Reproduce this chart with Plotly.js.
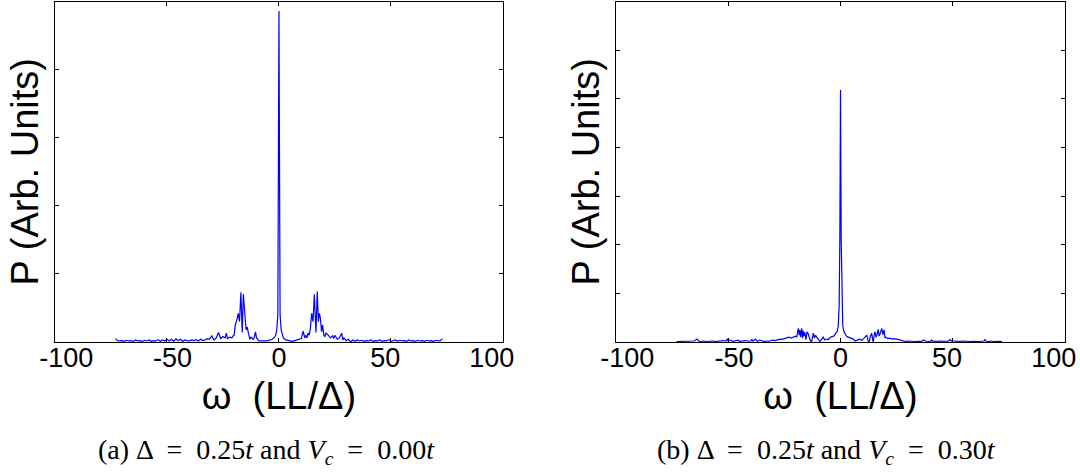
<!DOCTYPE html>
<html>
<head>
<meta charset="utf-8">
<script src="https://cdn.plot.ly/plotly-3.0.1.min.js"></script>
<style>html,body{margin:0;padding:0;background:#fff;}#chart{width:1080px;height:474px;}</style>
</head>
<body>
<div id="chart"></div>
<script>
// ---- Panel (a): Δ = 0.25t, Vc = 0.00t ----
const omegaA = [-73,-72,-71,-70,-69,-68,-67,-66,-65,-64,-63,-62,-61,-60,-59,-58,-57,-56,-55,-54,-53,-52,-51,-50,-49,-48,-47,-46,-45,-44,-43,-42,-41,-40,-39,-38,-37,-36,-35,-34,-33,-32,-31,-30,-29,-28,-27,-26,-25,-24,-23.5,-23,-22,-21,-20.5,-20,-19.5,-19,-18.6,-18.2,-17.6,-17,-16.4,-15.9,-15.3,-14.7,-14.2,-13.7,-13,-12.5,-12,-11.5,-11,-10.5,-10,-9.5,-9,-8,-7,-6,-5,-4,-3,-2,-1.5,-1,-0.5,0,0.5,1,1.5,2,3,4,5,6,7,8,9,10,10.8,11.5,12,12.5,13,13.5,14,14.6,15.2,15.8,16.5,17.1,17.6,18,18.5,19,19.5,20,20.5,21,22,23,24,24.5,25,26,27,28,28.5,29,30,31,32,33,34,35,36,37,38,39,40,41,42,43,44,45,46,47,48,49,50,51,52,53,54,55,56,57,58,59,60,61,62,63,64,65,66,67,68,69,70,71,72,73];
const powerA = [0.05,0.02,0.015,0.02,0.01,0.025,0.015,0.02,0.01,0.03,0.015,0.02,0.01,0.025,0.015,0.03,0.01,0.02,0.015,0.035,0.01,0.03,0.015,0.04,0.015,0.04,0.01,0.045,0.02,0.04,0.01,0.03,0.02,0.015,0.03,0.02,0.035,0.015,0.04,0.02,0.03,0.05,0.04,0.09,0.03,0.06,0.14,0.05,0.08,0.06,0.13,0.05,0.07,0.06,0.09,0.1,0.25,0.3,0.35,0.42,0.3,0.73,0.14,0.70,0.44,0.18,0.22,0.12,0.04,0.07,0.05,0.04,0.07,0.15,0.06,0.03,0.02,0.015,0.01,0.015,0.02,0.03,0.04,0.07,0.1,0.17,0.4,4.86,0.4,0.17,0.1,0.06,0.03,0.02,0.015,0.01,0.02,0.03,0.04,0.05,0.16,0.06,0.1,0.06,0.13,0.1,0.2,0.42,0.3,0.70,0.14,0.74,0.3,0.42,0.35,0.15,0.25,0.1,0.08,0.13,0.1,0.06,0.09,0.05,0.1,0.04,0.06,0.13,0.03,0.06,0.02,0.04,0.0,0.03,0.01,0.03,0.015,0.025,0.01,0.02,0.015,0.03,0.01,0.02,0.015,0.03,0.01,0.02,0.015,0.035,0.01,0.02,0.03,0.01,0.025,0.015,0.02,0.01,0.03,0.015,0.02,0.01,0.025,0.015,0.02,0.01,0.025,0.015,0.02,0.01,0.025,0.015,0.02,0.05];

// ---- Panel (b): Δ = 0.25t, Vc = 0.30t ----
const omegaB = [-73,-72,-71,-70,-69,-68,-67,-66,-65,-64,-63,-62,-61,-60,-59,-58,-57,-56,-55,-54,-53,-52,-51,-50.5,-50,-49,-48,-47,-46,-45.5,-45,-44,-43,-42,-41,-40,-39.5,-39,-38,-37,-36,-35,-34,-33,-32,-31,-30,-29,-28,-27,-26,-25,-24,-23,-22,-21,-20,-19.5,-19,-18.8,-18.4,-18.1,-17.7,-17.3,-16.9,-16.6,-16.2,-15.9,-15.4,-14.9,-14.4,-13.9,-13.4,-12.9,-12.4,-12.1,-11.6,-11.1,-10.6,-10,-9.2,-8.5,-7.7,-7,-6.2,-5.5,-4.8,-4,-3,-2.5,-2,-1.5,-1,-0.6,-0.3,0,0.3,0.6,1,1.5,2,2.5,3,4,5,5.7,6.5,7,8,8.7,9.5,10,11,11.7,12.3,12.8,13.3,13.9,14.3,14.6,15,15.4,15.8,16.2,16.8,17.2,17.6,18,18.4,18.9,19.4,19.8,20.2,21,22,23,24,25,26,27,28,29,30,31,32,33,34,35,36,37,38,39,40,40.6,41,42,43,44,45,46,47,48,48.8,49.5,50,51,52,53,54,55,56,57,58,59,60,61,62,63,64,64.4,65,66,67,68,69,70,71,72];
const powerB = [0.01,0.01,0.015,0.01,0.015,0.01,0.02,0.01,0.02,0.06,0.015,0.01,0.02,0.01,0.015,0.01,0.02,0.01,0.015,0.02,0.01,0.03,0.02,0.06,0.02,0.04,0.015,0.02,0.03,0.04,0.015,0.02,0.01,0.03,0.015,0.02,0.05,0.02,0.06,0.015,0.04,0.02,0.01,0.02,0.015,0.03,0.04,0.03,0.05,0.06,0.055,0.07,0.08,0.1,0.08,0.1,0.12,0.1,0.2,0.28,0.14,0.25,0.1,0.28,0.08,0.23,0.12,0.2,0.05,0.21,0.17,0.09,0.02,0.0,0.16,0.18,0.08,0.14,0.1,0.06,0.01,0.05,0.1,0.04,0.06,0.05,0.08,0.11,0.12,0.15,0.18,0.22,0.33,0.75,2.1,5.18,2.1,0.75,0.33,0.22,0.16,0.13,0.11,0.09,0.08,0.06,0.02,0.03,0.05,0.06,0.03,0.06,0.1,0.14,0.02,0.0,0.12,0.18,0.05,0.0,0.15,0.21,0.1,0.14,0.26,0.12,0.17,0.23,0.28,0.15,0.25,0.09,0.1,0.07,0.08,0.06,0.07,0.06,0.05,0.04,0.03,0.01,0.02,0.01,0.015,0.01,0.02,0.015,0.01,0.04,0.015,0.02,0.01,0.04,0.015,0.02,0.01,0.02,0.015,0.01,0.02,0.015,0.05,0.02,0.03,0.015,0.02,0.01,0.02,0.015,0.01,0.02,0.01,0.015,0.01,0.02,0.01,0.015,0.02,0.05,0.015,0.01,0.02,0.01,0.015,0.01,0.015,0.01];

const xTickVals = [-100, -50, 0, 50, 100];
const xTickText = ['-100', '-50', '0', '50', '100'];
const yTickValsA = [0, 1, 2, 3, 4, 5];
const yTickValsB = [0, 1, 2, 3, 4, 5, 6, 7];
const xTitle = 'ω  (LL/Δ)';
const yTitle = 'P (Arb. Units)';
const captionA = '(a) Δ &nbsp;= &nbsp;0.25<i>t</i> and <i>V<sub>c</sub></i> &nbsp;= &nbsp;0.00<i>t</i>';
const captionB = '(b) Δ &nbsp;= &nbsp;0.25<i>t</i> and <i>V<sub>c</sub></i> &nbsp;= &nbsp;0.30<i>t</i>';

const sans = 'Liberation Sans, Arial, sans-serif';
const serif = 'Liberation Serif, Times New Roman, serif';

const lineStyle = {color: '#0000ff', width: 1.2};
const traces = [
  {x: omegaA, y: powerA, type: 'scatter', mode: 'lines', line: lineStyle, xaxis: 'x', yaxis: 'y', hoverinfo: 'x+y'},
  {x: omegaB, y: powerB, type: 'scatter', mode: 'lines', line: lineStyle, xaxis: 'x2', yaxis: 'y2', hoverinfo: 'x+y'},
  // empty helper traces so the tick-label axes are drawn (no visible marks)
  {x: xTickVals, y: xTickVals.map(() => null), type: 'scatter', mode: 'lines', xaxis: 'x3', yaxis: 'y', hoverinfo: 'skip'},
  {x: xTickVals, y: xTickVals.map(() => null), type: 'scatter', mode: 'lines', xaxis: 'x4', yaxis: 'y2', hoverinfo: 'skip'}
];

// frame + tick marks (main axis, no labels)
function xAxis(domain, anchor) {
  return {
    domain: domain, anchor: anchor, range: [-100, 100],
    tickvals: xTickVals, showticklabels: false,
    ticks: 'inside', ticklen: 4, tickcolor: '#000', tickwidth: 1,
    showline: true, linecolor: '#000', linewidth: 1, mirror: 'ticks',
    showgrid: false, zeroline: false,
    title: {text: xTitle, font: {family: sans, size: 38, color: '#000'}, standoff: 40}
  };
}
// tick labels, drawn slightly compressed toward the centre as in the original figure
function xLabelAxis(domain, anchor, overlay) {
  return {
    domain: domain, anchor: anchor, overlaying: overlay, side: 'bottom',
    range: [-105.3, 105.3],
    tickvals: xTickVals, ticktext: xTickText,
    ticks: '', showline: false, showgrid: false, zeroline: false,
    ticklabelstandoff: -3, ticklabeloverflow: 'allow',
    tickfont: {family: sans, size: 27, color: '#000'}
  };
}
function yAxis(tickvals, top, anchor) {
  return {
    domain: [0.2785, 0.9968], anchor: anchor, range: [0, top],
    tickvals: tickvals, showticklabels: false,
    ticks: 'inside', ticklen: 4, tickcolor: '#000', tickwidth: 1,
    showline: true, linecolor: '#000', linewidth: 1, mirror: 'ticks',
    showgrid: false, zeroline: false,
    title: {text: yTitle, font: {family: sans, size: 38, color: '#000'}, standoff: 3}
  };
}

const dA = [0.0509, 0.4657];
const dB = [0.5704, 0.9861];
const layout = {
  width: 1080, height: 474,
  margin: {l: 0, r: 0, t: 0, b: 0},
  paper_bgcolor: '#fff', plot_bgcolor: '#fff',
  showlegend: false,
  xaxis: xAxis(dA, 'y'),
  yaxis: yAxis(yTickValsA, 5, 'x'),
  xaxis2: xAxis(dB, 'y2'),
  yaxis2: yAxis(yTickValsB, 7, 'x2'),
  xaxis3: xLabelAxis(dA, 'y', 'x'),
  xaxis4: xLabelAxis(dB, 'y2', 'x2'),
  annotations: [
    {text: captionA, xref: 'paper', yref: 'paper', x: 0.2472, y: 0.0485, xanchor: 'center', yanchor: 'middle', showarrow: false, font: {family: serif, size: 28, color: '#000'}},
    {text: captionB, xref: 'paper', yref: 'paper', x: 0.7657, y: 0.0485, xanchor: 'center', yanchor: 'middle', showarrow: false, font: {family: serif, size: 28, color: '#000'}}
  ]
};

Plotly.newPlot('chart', traces, layout, {displayModeBar: false, staticPlot: true});
</script>
</body>
</html>
